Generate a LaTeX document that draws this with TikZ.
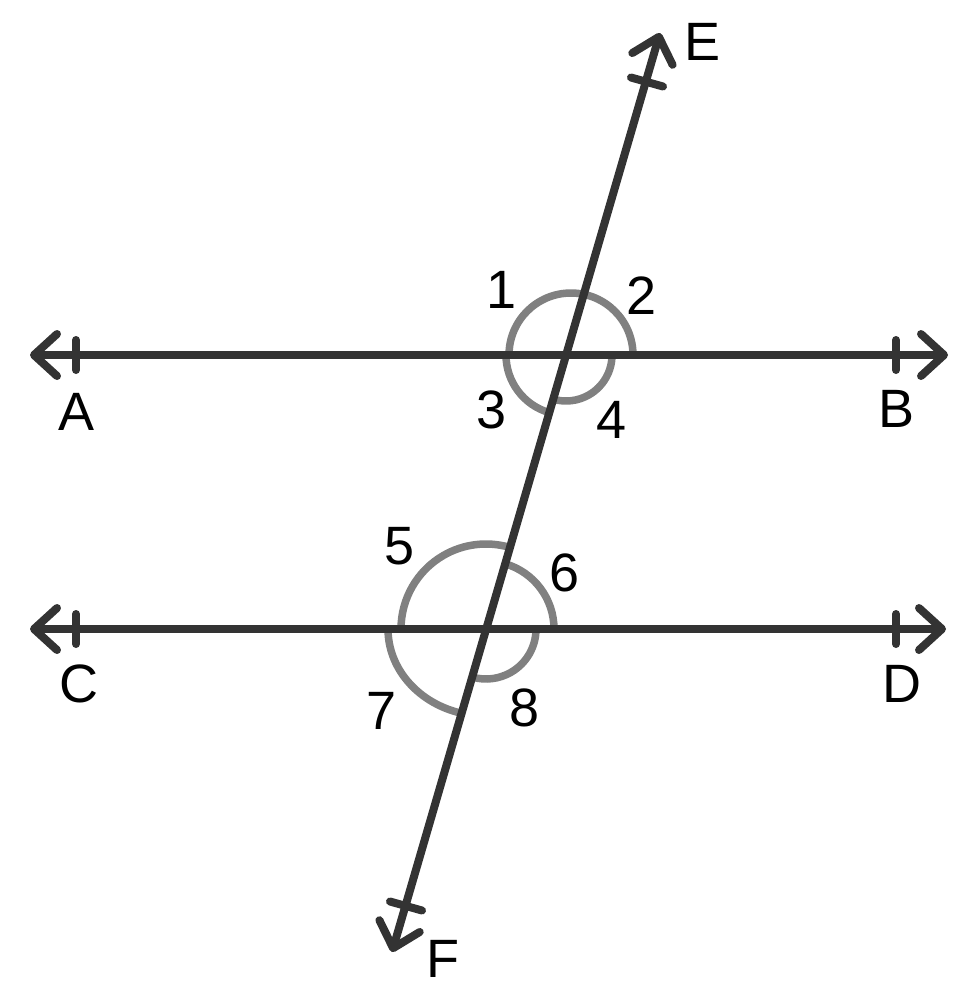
\documentclass[tikz,border=0pt]{standalone}
\usepackage{fontspec}
\setmainfont{Liberation Sans}
\usetikzlibrary{arrows.meta}

\tikzset{
  line/.style={line width=8pt, draw=black!80, line cap=round},
  tickmark/.style={line width=8pt, draw=black!80, line cap=round},
  anglearc/.style={line width=7.5pt, draw=black!50},
  lbl/.style={font=\fontsize{54}{62}\selectfont, inner sep=0pt, anchor=center}
}

\begin{document}
\begin{tikzpicture}[x=1pt,y=-1pt,
  >={Straight Barb[length=23pt,width=42pt,round]}]
  \useasboundingbox (0,0) rectangle (963,997);
  % end points and crossings
  \coordinate (a) at (30,355);
  \coordinate (b) at (948,355);
  \coordinate (c) at (30,629);
  \coordinate (d) at (946,629);
  \coordinate (e) at (660,33);
  \coordinate (f) at (392,952);
  \coordinate (x1) at (566,355);
  \coordinate (x2) at (486,629);
  \coordinate (ta) at (76,355);
  \coordinate (tb) at (896,355);
  \coordinate (tc) at (76,629);
  \coordinate (td) at (896,629);
  \coordinate (te) at (647,82);
  \coordinate (tf) at (406,906);
  % angle arcs
  \draw[anglearc] ([xshift=67pt]x1) arc[start angle=0,end angle=180,radius=62pt];
  \draw[anglearc] ([xshift=-60pt]x1) arc[start angle=180,end angle=254,radius=60pt];
  \draw[anglearc] ([xshift=46pt]x1) arc[start angle=0,end angle=-106,radius=46pt];
  \draw[anglearc] ([xshift=-85pt]x2) arc[start angle=180,end angle=74,radius=85pt];
  \draw[anglearc] ([xshift=68pt]x2) arc[start angle=0,end angle=74,radius=68pt];
  \draw[anglearc] ([xshift=-98pt]x2) arc[start angle=180,end angle=254,x radius=98pt,y radius=87pt];
  \draw[anglearc] ([xshift=50pt]x2) arc[start angle=0,end angle=-106,radius=50pt];
  % lines
  \draw[line,<->] (a) -- (b);
  \draw[line,<->] (c) -- (d);
  \draw[line,<->] (f) -- (e);
  % tick marks
  \draw[tickmark] ([yshift=15pt]ta) -- ([yshift=-15pt]ta);
  \draw[tickmark] ([yshift=15pt]tb) -- ([yshift=-15pt]tb);
  \draw[tickmark] ([yshift=15pt]tc) -- ([yshift=-15pt]tc);
  \draw[tickmark] ([yshift=15pt]td) -- ([yshift=-15pt]td);
  \draw[tickmark] ([shift={(-16,-4.5)}]te) -- ([shift={(16,4.5)}]te);
  \draw[tickmark] ([shift={(-16,-4.5)}]tf) -- ([shift={(16,4.5)}]tf);
  % letters
  \node[lbl] (A) at ([shift={(1,57)}]ta) {A};
  \node[lbl] (B) at ([shift={(1,54)}]tb) {B};
  \node[lbl] (C) at ([shift={(3,55)}]tc) {C};
  \node[lbl] (D) at ([shift={(6,55)}]td) {D};
  \node[lbl] (E) at ([shift={(43,9)}]e) {E};
  \node[lbl] (F) at ([shift={(51,7)}]f) {F};
  % angle numbers
  \node[lbl] (n1) at ([shift={(-64,-65)}]x1) {1};
  \node[lbl] (n2) at ([shift={(76,-59)}]x1) {2};
  \node[lbl] (n3) at ([shift={(-74,55)}]x1) {3};
  \node[lbl] (n4) at ([shift={(46,65)}]x1) {4};
  \node[lbl] (n5) at ([shift={(-86,-83)}]x2) {5};
  \node[lbl] (n6) at ([shift={(79,-56)}]x2) {6};
  \node[lbl] (n7) at ([shift={(-104,82)}]x2) {7};
  \node[lbl] (n8) at ([shift={(39,79)}]x2) {8};
\end{tikzpicture}
\end{document}
